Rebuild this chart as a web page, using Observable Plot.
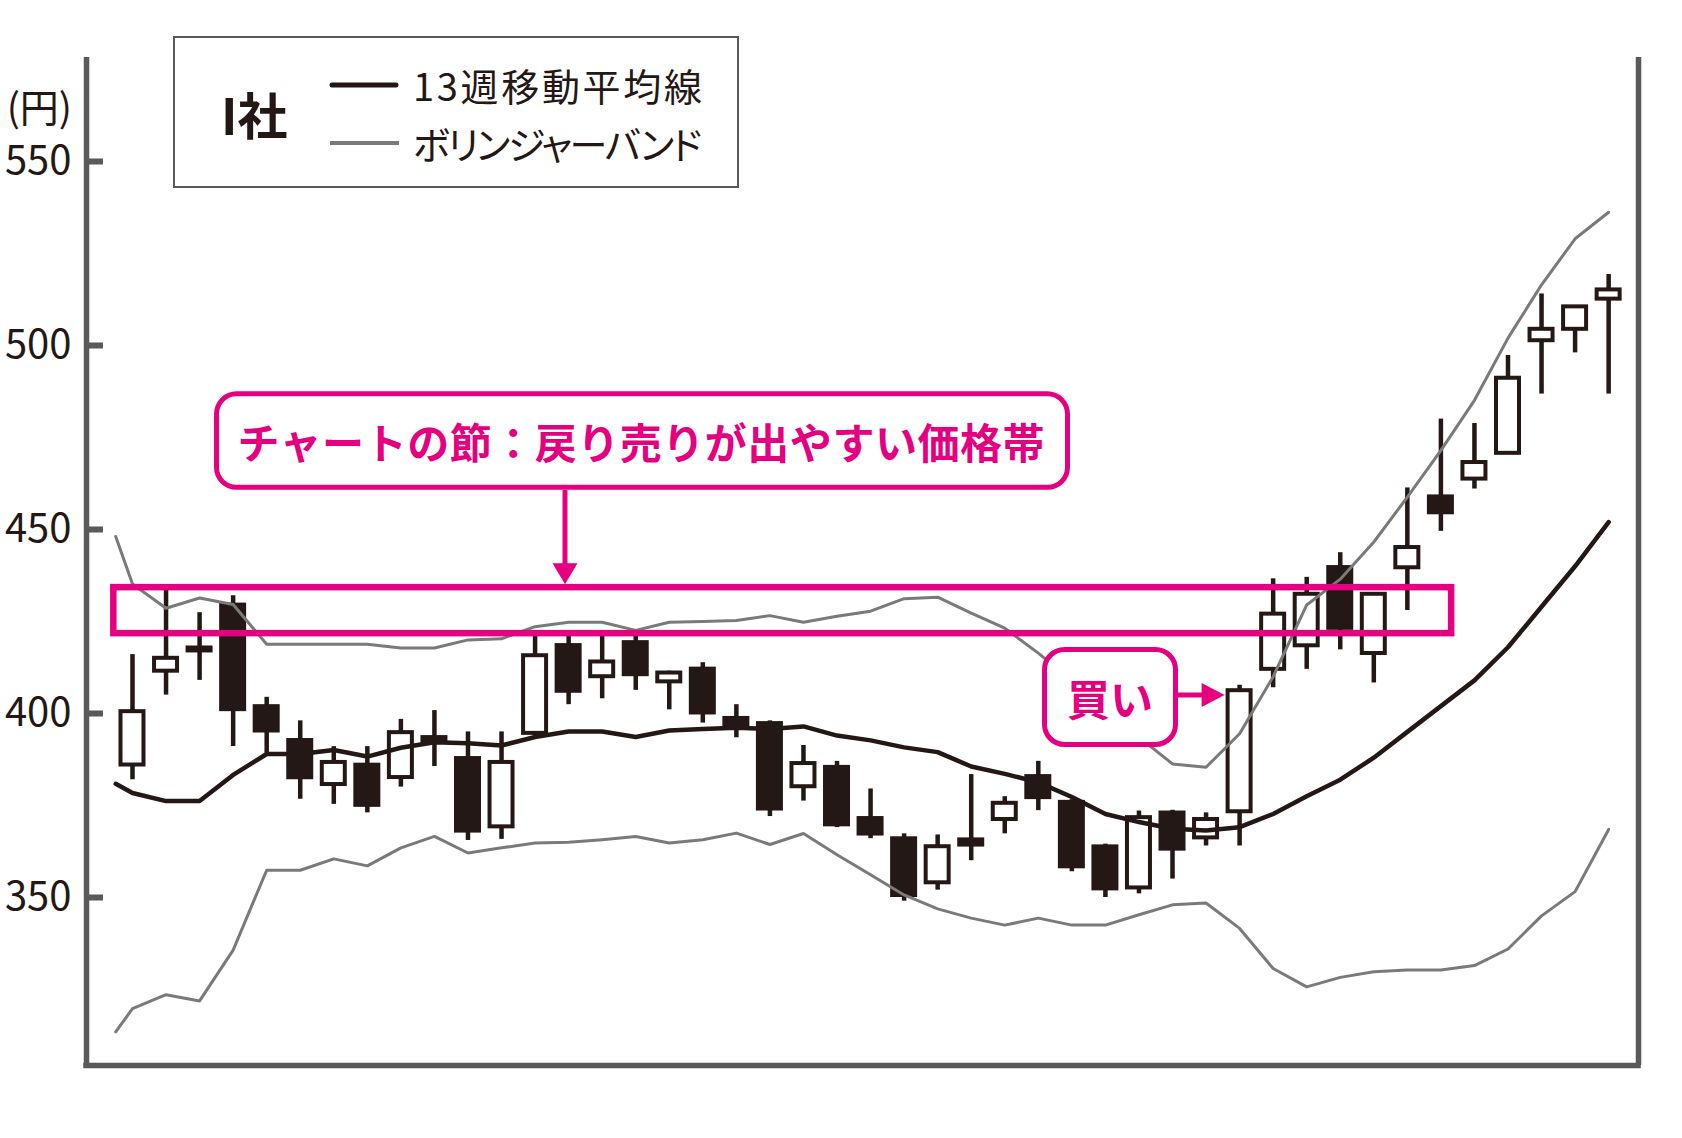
<!DOCTYPE html>
<html><head><meta charset="utf-8">
<script src="https://cdn.jsdelivr.net/npm/d3@7"></script>
<script src="https://cdn.jsdelivr.net/npm/@observablehq/plot@0.6"></script>
<style>
html,body{margin:0;padding:0;background:#fff;}
#chart svg{display:block;}
</style></head><body><div id="chart"></div>
<script>
// ---- data ----
const weeks = [1,2,3,4,5,6,7,8,9,10,11,12,13,14,15,16,17,18,19,20,21,22,23,24,25,26,27,28,29,30,31,32,33,34,35,36,37,38,39,40,41,42,43,44,45];
const open  = [386,411.5,417.0,430,402.4,393.2,380.7,386.5,382.6,394,388.3,369.2,394.6,419,410,419.8,408.6,412.6,399.2,397.8,380.1,385.9,372,366.5,354,366.2,371.2,383.4,376.4,364.3,352.6,373.5,366.2,373.3,412,418.4,440.2,416.3,439.6,459.4,463.7,470.7,501.3,504.4,512.6];
const close = [400.5,415,417.8,400.5,394.7,382,386.7,374.5,394.8,391.8,367.5,386.7,415.7,405.5,414,410,411,399.6,395.7,373.5,386.4,369.2,366.7,350,363.8,363.7,375.6,376.6,357.8,351.8,371.7,362.6,371.2,406.2,427,432.4,422.6,432.4,445.1,454,468.2,491.1,504.4,510.5,515.1];
const high  = [416,434,427.4,432,404.4,398,391,391,398.4,400.8,395,395,421,421,421,421,411.5,413.8,402.4,398,391.3,387,379.5,367.3,367,383.4,377.4,387,376.6,364.5,373.5,373.7,373,407.7,436.6,437,443.7,432.6,461.3,480,478.8,497.3,514,510.7,519.3];
const low   = [382,405,409,391,389.2,376.7,375.3,373,380,385.6,365.5,365.8,394,402.4,404,406.3,401,397.4,393.4,372,376.2,369,366,349,352,360,367.3,373.6,357,350,351,355,364,364,407,412,417.3,408.3,428,449.5,461,470.5,486.8,498,486.8];
const lineWeeks = [0.5,1,2,3,4,5,6,7,8,9,10,11,12,13,14,15,16,17,18,19,20,21,22,23,24,25,26,27,28,29,30,31,32,33,34,35,36,37,38,39,40,41,42,43,44,45];
const ma13 = [380.9,378.4,376.2,376.2,383.3,389,389,390.1,388.3,390.7,392.2,391.9,391.3,393.6,395.1,395.1,393.6,395.4,395.8,396.1,395.8,396.5,394,392.7,390.8,389.5,385.6,383.6,381.3,377.3,372.7,370.5,368.7,368.2,369.1,372.7,377.5,382,388,395,402,409,418,429,440,452];
const bollUpper = [448.1,435.2,428.6,431.4,429.6,418.8,418.8,418.8,418.8,417.8,417.8,420,420.3,423.6,424.8,424.8,422.6,424.8,425,425.3,426.6,424.8,426.4,427.8,431.2,431.6,427.3,423.2,416.4,408.8,401.2,393.6,386.3,385.4,394.5,410,429.5,436.5,446.6,458.8,471.5,485.1,502,516.5,529,536.2];
const bollLower = [313.5,319.8,323.6,321.9,335.7,357.4,357.4,360.5,358.6,363.5,366.6,362.1,363.5,364.8,365,365.7,366.6,364.8,365.7,367.5,364.4,367.4,361.6,356.2,350.7,346.9,344.4,342.5,344.4,342.5,342.5,345.3,348,348.5,341.6,330.7,325.7,328.3,329.8,330.3,330.3,331.5,336,345,351.6,368.5];
const yTicks = [350,400,450,500,550];
const resistanceBand = [421.7, 434.2];   // price zone (円)
const resistanceWeeks = [0.443, 40.32];  // week span of the zone
const buyWeek = 34;
const unitLabel = "(円)";
const companyLabel = "I社";
const legendLabels = ["13週移動平均線", "ボリンジャーバンド"];
const calloutZone = "チャートの節：戻り売りが出やすい価格帯";
const calloutBuy = "買い";

// ---- build ----
const candles = weeks.map((w,i)=>({week:w, open:open[i], close:close[i], high:high[i], low:low[i], up: close[i] >= open[i]}));
const lines = lineWeeks.map((w,i)=>({week:w, ma:ma13[i], upper:bollUpper[i], lower:bollLower[i]}));

const W = 1682, H = 1138;
const mL = 86, mR = 44, mT = 57, mB = 73;
const xDomain = [-0.371, 45.89];
const yDomain = [304.35, 578.26];
const INK = "#231815", GRAY = "#7a7a7a", FRAME = "#5a5a5a", PINK = "#e4007f";
const FONT = "'Noto Sans CJK JP','Noto Sans',sans-serif";
const step = (W - mL - mR) / (xDomain[1] - xDomain[0]);
const halfBlack = 13.5 / step, halfWhite = 11.5 / step;

const chart = Plot.plot({
  width: W, height: H,
  marginLeft: mL, marginRight: mR, marginTop: mT, marginBottom: mB,
  x: {type: "linear", domain: xDomain, axis: null},
  y: {type: "linear", domain: yDomain, axis: null},
  style: {fontFamily: FONT, color: INK, background: "#fff"},
  marks: [
    Plot.ruleX(candles, {x: "week", y1: "low", y2: "high", stroke: INK, strokeWidth: 4.5}),
    Plot.rect(candles.filter(d => !d.up), {x1: d => d.week - halfBlack, x2: d => d.week + halfBlack, y1: "open", y2: "close", fill: INK}),
    Plot.rect(candles.filter(d => d.up), {x1: d => d.week - halfWhite, x2: d => d.week + halfWhite, y1: "open", y2: "close", fill: "#fff", stroke: INK, strokeWidth: 4}),
    Plot.line(lines, {x: "week", y: "upper", stroke: GRAY, strokeWidth: 3}),
    Plot.line(lines, {x: "week", y: "lower", stroke: GRAY, strokeWidth: 3}),
    Plot.line(lines, {x: "week", y: "ma", stroke: INK, strokeWidth: 4.5, strokeLinejoin: "round"}),
    Plot.rect([0], {x1: resistanceWeeks[0], x2: resistanceWeeks[1], y1: resistanceBand[0], y2: resistanceBand[1], stroke: PINK, strokeWidth: 6.5, fill: "none"}),
    Plot.axisY({ticks: yTicks, tickSize: 0, tickPadding: 15, fontSize: 40, fill: INK, tickFormat: d => String(d)}),
    Plot.ruleY(yTicks, {x1: xDomain[0], x2: xDomain[0] + 17 / step, stroke: FRAME, strokeWidth: 6}),
    Plot.ruleX([xDomain[0], xDomain[1]], {stroke: FRAME, strokeWidth: 5.5}),
    Plot.ruleY([yDomain[0]], {stroke: FRAME, strokeWidth: 5.5, strokeLinecap: "square"})
  ]
});
document.getElementById("chart").appendChild(chart);

// ---- annotations ----
const svg = d3.select(chart);
const sx = chart.scale("x"), sy = chart.scale("y");
const g = svg.append("g").attr("font-family", FONT).attr("text-anchor", "start");

g.append("text").attr("x", 72).attr("y", 105).attr("text-anchor", "end").attr("dominant-baseline", "central")
  .attr("font-size", 39).attr("fill", INK).text(unitLabel);

// legend
g.append("rect").attr("x", 174).attr("y", 37).attr("width", 564).attr("height", 150)
  .attr("fill", "#fff").attr("stroke", FRAME).attr("stroke-width", 2);
g.append("text").attr("x", 221).attr("y", 113).attr("text-anchor", "start").attr("dominant-baseline", "central")
  .attr("font-size", 50).attr("font-weight", "bold").attr("fill", INK).text(companyLabel);
g.append("line").attr("x1", 332).attr("x2", 396).attr("y1", 85).attr("y2", 85)
  .attr("stroke", INK).attr("stroke-width", 5).attr("stroke-linecap", "round");
g.append("line").attr("x1", 330).attr("x2", 399).attr("y1", 143).attr("y2", 143)
  .attr("stroke", GRAY).attr("stroke-width", 4);
g.append("text").attr("x", 413).attr("y", 84).attr("text-anchor", "start").attr("dominant-baseline", "central")
  .attr("font-size", 38).attr("fill", INK)
  .attr("textLength", 289).attr("lengthAdjust", "spacing").text(legendLabels[0]);
g.append("text").attr("x", 413).attr("y", 142).attr("text-anchor", "start").attr("dominant-baseline", "central")
  .attr("font-size", 38).attr("fill", INK).style("font-feature-settings", "'palt'")
  .attr("textLength", 289).attr("lengthAdjust", "spacing").text(legendLabels[1]);

// callout: resistance zone
const zoneTop = sy.apply(resistanceBand[1]);
g.append("rect").attr("x", 216.5).attr("y", 393.8).attr("width", 851).attr("height", 93.5).attr("rx", 20)
  .attr("fill", "#fff").attr("stroke", PINK).attr("stroke-width", 5);
g.append("text").attr("x", 641).attr("y", 440).attr("text-anchor", "middle").attr("dominant-baseline", "central")
  .attr("font-size", 42).attr("font-weight", "bold").attr("fill", PINK)
  .attr("textLength", 807).attr("lengthAdjust", "spacing").text(calloutZone);
const ax = 565;
g.append("line").attr("x1", ax).attr("x2", ax).attr("y1", 490).attr("y2", zoneTop - 20)
  .attr("stroke", PINK).attr("stroke-width", 5);
g.append("path").attr("d", `M${ax-12.5},${zoneTop-24}L${ax+12.5},${zoneTop-24}L${ax},${zoneTop-3}Z`).attr("fill", PINK);

// callout: buy
const buyLeft = sx.apply(buyWeek) - 13.5 - 1;
g.append("rect").attr("x", 1044.5).attr("y", 649.5).attr("width", 131).attr("height", 95).attr("rx", 20)
  .attr("fill", "#fff").attr("stroke", PINK).attr("stroke-width", 5);
g.append("text").attr("x", 1110).attr("y", 697).attr("text-anchor", "middle").attr("dominant-baseline", "central")
  .attr("font-size", 43).attr("font-weight", "bold").attr("fill", PINK).text(calloutBuy);
g.append("line").attr("x1", 1177).attr("x2", buyLeft - 20).attr("y1", 695).attr("y2", 695)
  .attr("stroke", PINK).attr("stroke-width", 5);
g.append("path").attr("d", `M${buyLeft-23},683L${buyLeft-23},707L${buyLeft},695Z`).attr("fill", PINK);
</script></body></html>
